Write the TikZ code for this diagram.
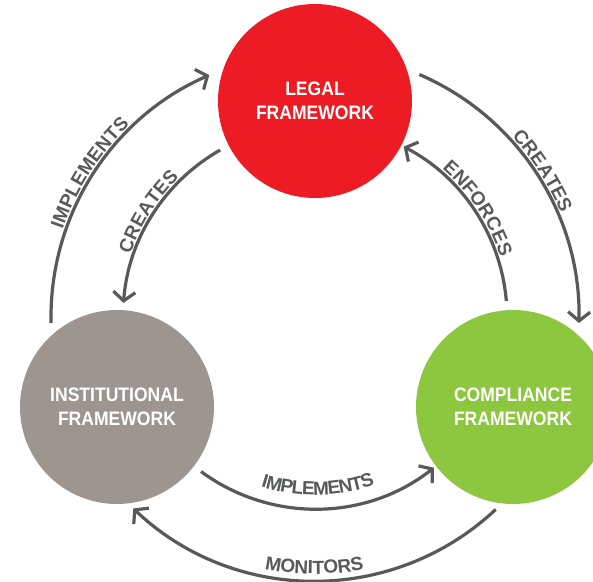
\documentclass[tikz,border=0pt]{standalone}
\usepackage{fontspec}
\setmainfont{Liberation Sans}[FakeStretch=0.9]
\newfontfamily\arcfamily{Liberation Sans Bold}
\usetikzlibrary{arrows.meta,decorations.text}

\definecolor{legalred}{HTML}{ED1C24}
\definecolor{instgray}{HTML}{9D9690}
\definecolor{compgreen}{HTML}{8DC63F}
\definecolor{arrowgray}{HTML}{58595B}

\newcommand{\arcfont}{\arcfamily\fontsize{19}{19}\selectfont}

\tikzstyle{frameNode} = [circle, minimum size=194pt, inner sep=0pt, text=white, align=center, font=\fontsize{19.5}{24}\selectfont\bfseries]
\tikzstyle{cycleArrow} = [line width=3.2pt, draw=arrowgray, -{Straight Barb[length=9pt,width=22pt]}]
\tikzset{arcLabel/.style 2 args={font=\arcfont, decorate, decoration={text along path, text align=center, text color=arrowgray, raise=#2, text={|\arcfont|#1}}}}

\begin{document}
\begin{tikzpicture}[x=1pt, y=1pt]
  \useasboundingbox (-315,-264) rectangle (278,317);
  \clip (-315,-264) rectangle (278,317);

  \coordinate (hub) at (0,0);

  \node (legal)[frameNode, fill=legalred] at (0,216) {LEGAL\\FRAMEWORK};
  \node (institutional)[frameNode, fill=instgray] at (-198,-90) {INSTITUTIONAL\\FRAMEWORK};
  \node (compliance)[frameNode, fill=compgreen] at (198,-90) {COMPLIANCE\\FRAMEWORK};

  % outer ring
  \draw [cycleArrow] ([shift={(181.3:264pt)}]hub) arc[start angle=181.3, end angle=113.6, radius=264pt];
  \draw [cycleArrow] ([shift={(66.7:264pt)}]hub) arc[start angle=66.7, end angle=-1.3, radius=264pt];
  \draw [cycleArrow] ([shift={(-46.8:264pt)}]hub) arc[start angle=-46.8, end angle=-133.5, radius=264pt];

  % inner ring
  \draw [cycleArrow] ([shift={(119.6:192pt)}]hub) arc[start angle=119.6, end angle=175.8, radius=192pt];
  \draw [cycleArrow] ([shift={(4.8:192pt)}]hub) arc[start angle=4.8, end angle=62.5, radius=192pt];
  \draw [cycleArrow] ([shift={(233.6:192pt)}]hub) arc[start angle=233.6, end angle=308.3, radius=192pt];

  % labels
  \path [arcLabel={IMPLEMENTS}{3pt}] ([shift={(181.3:264pt)}]hub) arc[start angle=181.3, end angle=113.6, radius=264pt];
  \path [arcLabel={CREATES}{3pt}] ([shift={(66.7:264pt)}]hub) arc[start angle=66.7, end angle=-1.3, radius=264pt];
  \path [arcLabel={MONITORS}{7pt}] ([shift={(-133.5:264pt)}]hub) arc[start angle=-133.5, end angle=-46.8, radius=264pt];
  \path [arcLabel={CREATES}{3pt}] ([shift={(175.8:192pt)}]hub) arc[start angle=175.8, end angle=119.6, radius=192pt];
  \path [arcLabel={ENFORCES}{3pt}] ([shift={(62.5:192pt)}]hub) arc[start angle=62.5, end angle=4.8, radius=192pt];
  \path [arcLabel={IMPLEMENTS}{14pt}] ([shift={(233.6:192pt)}]hub) arc[start angle=233.6, end angle=308.3, radius=192pt];
\end{tikzpicture}
\end{document}
